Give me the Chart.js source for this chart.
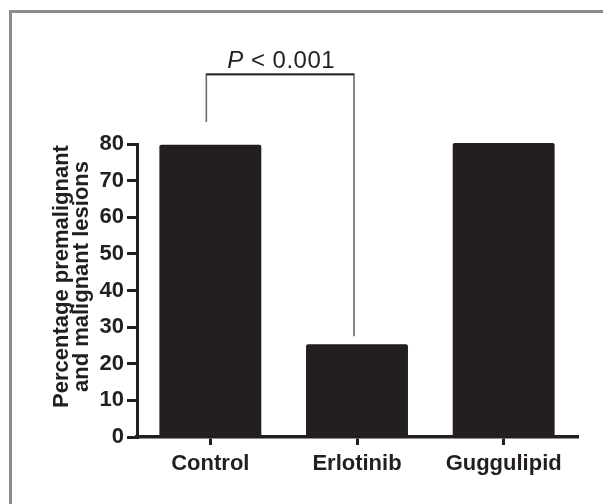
<!DOCTYPE html>
<html>
<head>
<meta charset="utf-8">
<script src="https://cdn.jsdelivr.net/npm/chart.js@4.4.1/dist/chart.umd.min.js"></script>
<style>
  html, body { margin: 0; padding: 0; background: #fff; }
  canvas { display: block; }
</style>
</head>
<body>
<canvas id="chart" width="603" height="504"></canvas>
<script>
// groups and their percentages
const categories = ['Control', 'Erlotinib', 'Guggulipid'];
const lesionPercent = [79.8, 25.3, 80.3];
const yTicks = [0, 10, 20, 30, 40, 50, 60, 70, 80];
const yTitle = ['Percentage premalignant', 'and malignant lesions'];

// significance bracket between Control and Erlotinib (in data units)
const bracketFrom = 0;
const bracketTo = 1;
const bracketTop = 99;
const bracketLeftEnd = 86;
const bracketRightEnd = 27.5;
const pLabel = '< 0.001';

const ink = '#231f20';
const fontFamily = '"Liberation Sans", Arial, Helvetica, sans-serif';

const framePlugin = {
    id: 'frame',
    beforeDraw(chart) {
        const ctx = chart.ctx;
        ctx.save();
        ctx.fillStyle = '#fff';
        ctx.fillRect(0, 0, chart.width, chart.height);
        ctx.strokeStyle = '#8c8c8c';
        ctx.lineWidth = 3;
        ctx.beginPath();
        ctx.moveTo(10.5, chart.height + 5);
        ctx.lineTo(10.5, 11.5);
        ctx.lineTo(chart.width + 5, 11.5);
        ctx.stroke();
        ctx.restore();
    }
};

const extrasPlugin = {
    id: 'extras',
    afterDraw(chart) {
        const ctx = chart.ctx;
        const x = chart.scales.x;
        const y = chart.scales.y;

        // bracket
        const x1 = x.getPixelForValue(bracketFrom) - 4;
        const x2 = x.getPixelForValue(bracketTo) - 3;
        const yTop = y.getPixelForValue(bracketTop);
        ctx.save();
        ctx.lineWidth = 1.6;
        ctx.strokeStyle = '#6a6a6a';
        ctx.beginPath();
        ctx.moveTo(x1, y.getPixelForValue(bracketLeftEnd));
        ctx.lineTo(x1, yTop);
        ctx.lineTo(x2, yTop);
        ctx.lineTo(x2, y.getPixelForValue(bracketRightEnd));
        ctx.stroke();
        ctx.strokeStyle = ink;
        ctx.beginPath();
        ctx.moveTo(x1, yTop);
        ctx.lineTo(x2, yTop);
        ctx.stroke();

        // P value text, italic P
        ctx.letterSpacing = '0.5px';
        const italic = 'italic 24px ' + fontFamily;
        const normal = '24px ' + fontFamily;
        ctx.font = italic;
        const wP = ctx.measureText('P').width;
        ctx.font = normal;
        const wRest = ctx.measureText(' ' + pLabel).width;
        const cx = (x1 + x2) / 2 + 1;
        const startX = cx - (wP + wRest) / 2;
        const baseY = yTop - 6;
        ctx.fillStyle = ink;
        ctx.textBaseline = 'alphabetic';
        ctx.textAlign = 'left';
        ctx.font = italic;
        ctx.fillText('P', startX, baseY);
        ctx.font = normal;
        ctx.fillText(' ' + pLabel, startX + wP, baseY);
        ctx.letterSpacing = '0px';

        // y axis title, two lines, rotated
        ctx.font = 'bold 22px ' + fontFamily;
        ctx.textAlign = 'center';
        ctx.textBaseline = 'middle';
        ctx.translate(0, (chart.chartArea.top + chart.chartArea.bottom) / 2 - 14);
        ctx.rotate(-Math.PI / 2);
        ctx.fillText(yTitle[0], 0, 62);
        ctx.fillText(yTitle[1], 0, 81.5);
        ctx.restore();
    }
};

new Chart(document.getElementById('chart').getContext('2d'), {
    type: 'bar',
    data: {
        labels: categories,
        datasets: [{
            data: lesionPercent,
            backgroundColor: ink,
            borderWidth: 0,
            borderRadius: 2,
            clip: false,
            categoryPercentage: 1,
            barPercentage: 0.695
        }]
    },
    options: {
        responsive: false,
        animation: false,
        devicePixelRatio: 1,
        layout: { padding: { top: 144, right: 26, bottom: 0, left: 0 } },
        plugins: {
            legend: { display: false },
            tooltip: { enabled: false }
        },
        scales: {
            x: {
                afterFit(scale) { scale.height = 67; },
                grid: {
                    offset: false,
                    drawOnChartArea: false,
                    tickLength: 8,
                    lineWidth: 3,
                    color: ink
                },
                border: { color: ink, width: 3.5 },
                ticks: {
                    color: ink,
                    padding: 6,
                    font: { family: fontFamily, size: 22, weight: 'bold' }
                }
            },
            y: {
                min: 0,
                max: 80,
                afterFit(scale) { scale.width = 137; },
                afterBuildTicks(scale) { scale.ticks = yTicks.map(v => ({ value: v })); },
                grid: {
                    drawOnChartArea: false,
                    tickLength: 10,
                    lineWidth: 3,
                    color: ink
                },
                border: { color: ink, width: 3 },
                ticks: {
                    color: ink,
                    padding: 3,
                    font: { family: fontFamily, size: 22, weight: 'bold' }
                }
            }
        }
    },
    plugins: [framePlugin, extrasPlugin]
});
</script>
</body>
</html>
